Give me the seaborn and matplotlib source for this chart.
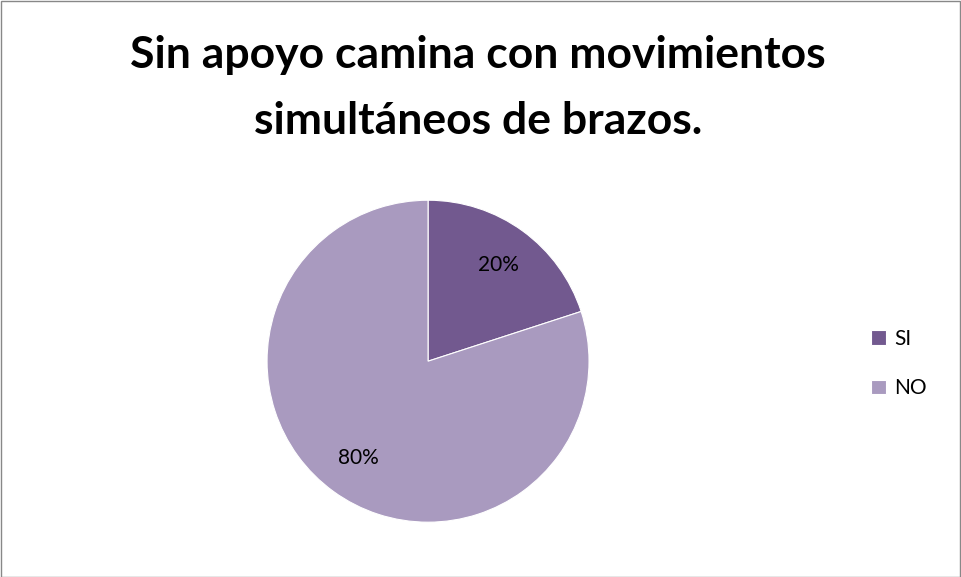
import matplotlib
matplotlib.use("Agg")
import matplotlib.pyplot as plt
import seaborn as sns
from matplotlib.patches import Rectangle

# data
categories = ["SI", "NO"]
values = [20, 80]
colors = ["#72598F", "#A99ABF"]
title = "Sin apoyo camina con movimientos\nsimultáneos de brazos."

sns.set_theme(style="white")
plt.rcParams["font.family"] = ["Lato", "DejaVu Sans"]
plt.rcParams["text.color"] = "black"

fig = plt.figure(figsize=(9.62, 5.77), dpi=100)
ax = fig.add_axes([0.2776, 0.095, 0.3347, 0.558])

wedges, texts, autotexts = ax.pie(
    values, colors=colors, startangle=90, counterclock=False,
    autopct="%1.0f%%", pctdistance=0.74,
    wedgeprops=dict(edgecolor="white", linewidth=0.8),
    textprops=dict(fontsize=15, color="black"))
ax.set_xlim(-1, 1)
ax.set_ylim(-1, 1)
ax.set_aspect("equal")

fig.text(0.497, 0.848, title, ha="center", va="center", fontsize=32,
         fontweight="bold", linespacing=1.8, color="black")

fig.legend(wedges, categories, loc="center left",
           bbox_to_anchor=(0.886, 0.37), frameon=False, fontsize=15,
           handlelength=0.7, handleheight=0.7, handletextpad=0.4,
           labelspacing=1.4, labelcolor="black")

# outer frame
fig.patches.append(Rectangle((0.001, 0.0), 0.997, 0.998, transform=fig.transFigure,
                             fill=False, edgecolor="#888888", linewidth=1))

fig.savefig("out.png", dpi=100)
